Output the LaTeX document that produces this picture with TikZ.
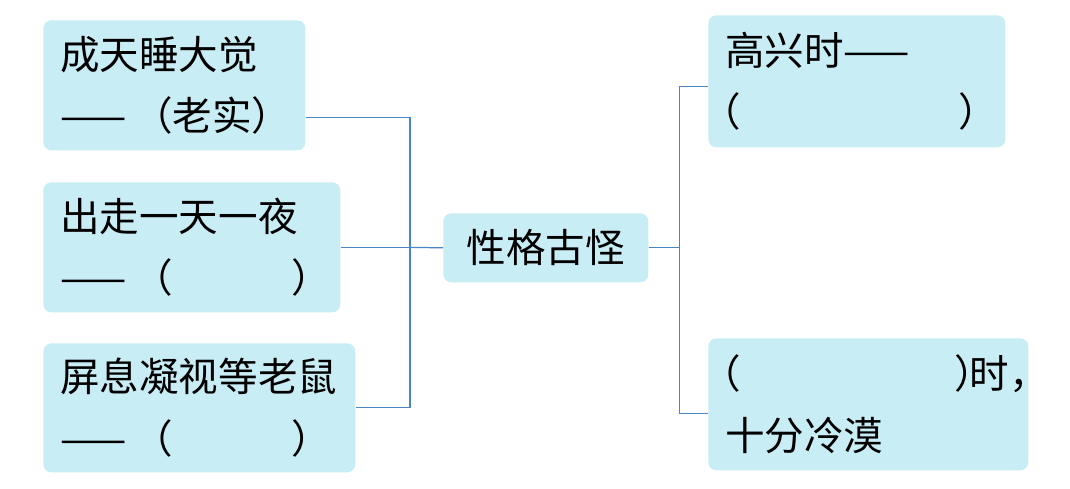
\documentclass[tikz,border=0pt]{standalone}
\usepackage{fontspec}
\setmainfont{Noto Sans CJK SC}
\usepackage{tikz}
\usetikzlibrary{positioning,calc}
\definecolor{boxfill}{RGB}{200,237,245}
\definecolor{linkblue}{RGB}{74,134,197}

\begin{document}
\begin{tikzpicture}[x=0.02cm,y=-0.02cm,
  card/.style={fill=boxfill, rounded corners=0.16cm, anchor=north west, align=left,
    inner xsep=0.34cm, inner ysep=0pt, font=\fontsize{22.5pt}{35pt}\selectfont},
  link/.style={draw=linkblue, line width=0.7pt}]
\useasboundingbox (0,0) rectangle (1070,489);
\node[card, text width=4.56cm, minimum height=2.6cm] (sleep) at (43,20) {\mbox{成天睡大觉}\\\mbox{——\,（老实）}};
\node[card, text width=5.26cm, minimum height=2.6cm] (away) at (43,182) {\mbox{出走一天一夜}\\\mbox{——\,（\hspace{3em}）}};
\node[card, text width=5.56cm, minimum height=2.58cm] (mouse) at (43,343) {\mbox{屏息凝视等老鼠}\\\mbox{——\,（\hspace{3em}）}};
\node[card, align=center, inner xsep=0pt, minimum width=4.1cm, minimum height=1.38cm] (core) at (443,213) {性格古怪};
\node[card, text width=5.26cm, minimum height=2.64cm] (happy) at (708,15) {\mbox{高兴时——}\\\mbox{\hspace{-0.6em}（\hspace{5.5em}）}};
\node[card, text width=5.72cm, minimum height=2.64cm] (cold) at (708,338) {\mbox{\hspace{-0.6em}（\hspace{5.4em}）\hspace{-0.62em}时，}\\\mbox{十分冷漠}};
\coordinate (ljoin) at ($(core.west)+(-33,0)$);
\coordinate (rjoin) at ($(core.east)+(31,0)$);
\draw[link] ([yshift=-0.64cm]sleep.east) -| (ljoin);
\draw[link] (mouse.east) -| (ljoin);
\draw[link] (away.east -| ljoin) -- (core.west);
\draw[link] (away.east) -- (away.east -| ljoin);
\draw[link] (core.east) -- (rjoin);
\draw[link] (rjoin) |- ([yshift=-0.1cm]happy.west);
\draw[link] (rjoin) |- ([yshift=-0.18cm]cold.west);
\end{tikzpicture}
\end{document}
